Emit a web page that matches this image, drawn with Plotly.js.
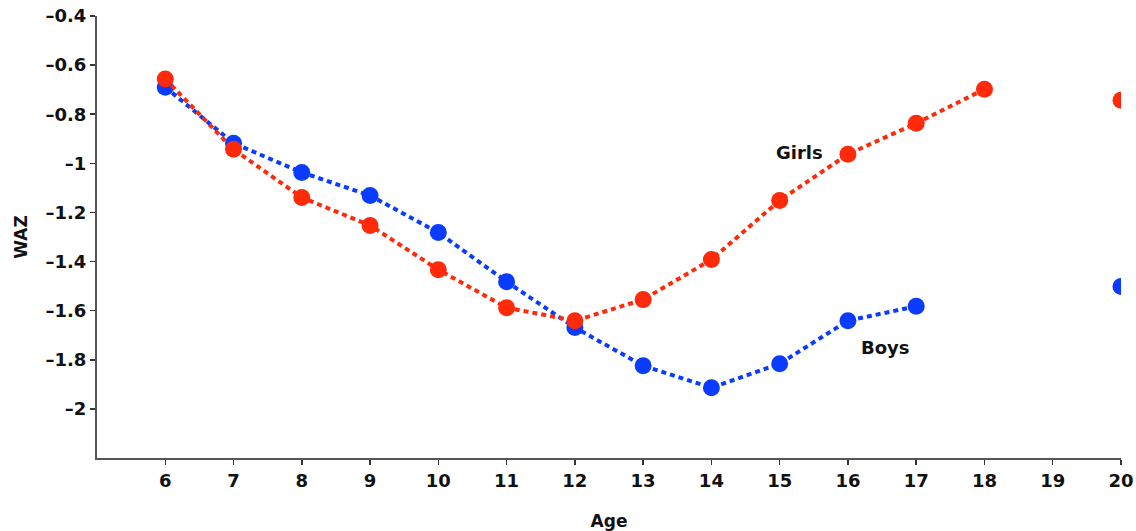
<!DOCTYPE html>
<html><head><meta charset="utf-8">
<script src="https://cdn.plot.ly/plotly-3.0.1.min.js"></script>
<style>html,body{margin:0;padding:0;background:#fff}#chart{width:1136px;height:531px}</style>
</head><body><div id="chart"></div>
<script>
const ages = [6,7,8,9,10,11,12,13,14,15,16,17,18,19,20];
const boys = [-0.69,-0.918,-1.037,-1.131,-1.282,-1.482,-1.669,-1.824,-1.914,-1.816,-1.641,-1.582,null,null,-1.502];
const girls = [-0.657,-0.943,-1.139,-1.253,-1.433,-1.588,-1.641,-1.555,-1.392,-1.151,-0.963,-0.837,-0.698,null,-0.743];
const xTicks = [6,7,8,9,10,11,12,13,14,15,16,17,18,19,20];
const yTicks = [-0.4,-0.6,-0.8,-1,-1.2,-1.4,-1.6,-1.8,-2];
const yTickText = ['\u20130.4','\u20130.6','\u20130.8','\u20131','\u20131.2','\u20131.4','\u20131.6','\u20131.8','\u20132'];
const labels = [{text:'Girls', x:15.29, y:-0.955},{text:'Boys', x:16.55, y:-1.751}];

const traces = [
  {x:ages, y:boys, name:'Boys', mode:'lines+markers', connectgaps:false,
   line:{color:'#0a3cff', width:4, dash:'5px,4px'}, marker:{color:'#0a3cff', size:17}},
  {x:ages, y:girls, name:'Girls', mode:'lines+markers', connectgaps:false,
   line:{color:'#ff2a0a', width:4, dash:'5px,4px'}, marker:{color:'#ff2a0a', size:17}}
];
const tickFont = {family:'DejaVu Sans', size:18, color:'#111', weight:'bold'};
const layout = {
  width:1136, height:531,
  margin:{l:97, r:15, t:16, b:73},
  showlegend:false,
  paper_bgcolor:'#fff', plot_bgcolor:'#fff',
  font:{family:'DejaVu Sans', size:16, color:'#111'},
  xaxis:{range:[5,20], tickvals:xTicks, ticktext:xTicks.map(String), showgrid:false, zeroline:false,
    showline:true, linecolor:'#555', linewidth:2, ticks:'outside', ticklen:5, tickcolor:'#333', tickwidth:1.5,
    tickfont:tickFont,
    title:{text:'<b>Age</b>', font:{family:'DejaVu Sans', size:17, color:'#111'}, standoff:26}},
  yaxis:{range:[-2.2,-0.4], tickvals:yTicks, ticktext:yTickText, showgrid:false, zeroline:false,
    showline:true, linecolor:'#555', linewidth:2, ticks:'outside', ticklen:5, tickcolor:'#333', tickwidth:1.5,
    tickfont:tickFont,
    title:{text:'<b>WAZ</b>', font:{family:'DejaVu Sans', size:17, color:'#111'}, standoff:14}},
  annotations: labels.map(l => ({x:l.x, y:l.y, text:'<b>'+l.text+'</b>', showarrow:false,
    font:{family:'DejaVu Sans', size:18, color:'#111'}}))
};
Plotly.newPlot('chart', traces, layout, {displayModeBar:false, staticPlot:true});
</script></body></html>
